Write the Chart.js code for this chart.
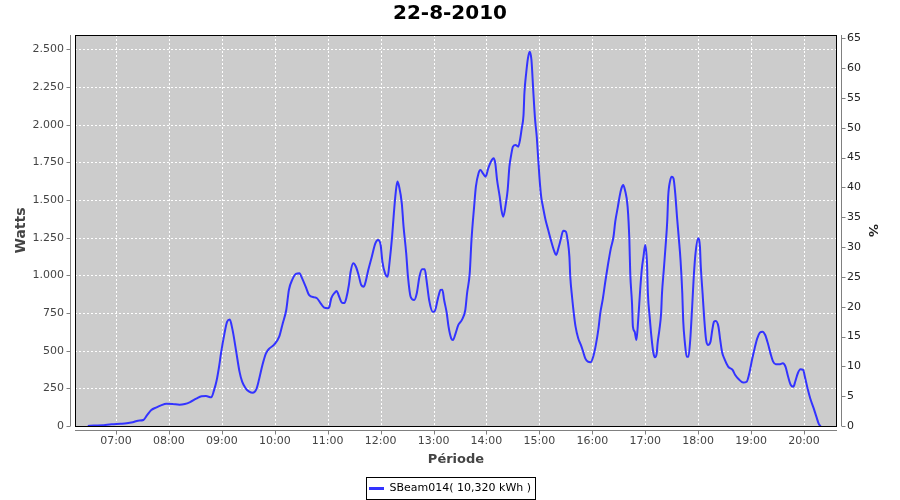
<!DOCTYPE html>
<html>
<head>
<meta charset="utf-8">
<title>22-8-2010</title>
<script src="https://cdn.jsdelivr.net/npm/chart.js@4.4.1/dist/chart.umd.min.js"></script>
<style>
    html, body { margin: 0; padding: 0; background: #ffffff; }
</style>
</head>
<body>
<canvas id="myChart" width="900" height="500"></canvas>
<script>
const times = [
    '06:28', '06:35', '06:45', '06:50', '06:55', '07:05', '07:12', '07:19', '07:25', '07:31',
    '07:35', '07:40', '07:46', '07:51', '07:57', '08:04', '08:12', '08:18', '08:24', '08:31',
    '08:37', '08:42', '08:48', '08:51', '08:54', '08:57', '08:59', '09:03', '09:06', '09:09',
    '09:12', '09:16', '09:20', '09:23', '09:27', '09:31', '09:35', '09:39', '09:42', '09:46',
    '09:50', '09:54', '09:59', '10:05', '10:09', '10:13', '10:16', '10:20', '10:24', '10:28',
    '10:31', '10:35', '10:39', '10:45', '10:48', '10:52', '10:56', '11:00', '11:02', '11:04',
    '11:08', '11:10', '11:13', '11:16', '11:19', '11:21', '11:24', '11:26', '11:29', '11:32',
    '11:35', '11:38', '11:41', '11:43', '11:46', '11:50', '11:54', '11:57', '12:00', '12:02',
    '12:05', '12:08', '12:10', '12:13', '12:15', '12:17', '12:19', '12:21', '12:24', '12:26',
    '12:29', '12:31', '12:34', '12:38', '12:41', '12:44', '12:47', '12:50', '12:52', '12:55',
    '12:59', '13:01', '13:05', '13:08', '13:10', '13:12', '13:15', '13:17', '13:20', '13:22',
    '13:25', '13:28', '13:32', '13:36', '13:38', '13:41', '13:43', '13:46', '13:48', '13:51',
    '13:53', '13:56', '13:59', '14:02', '14:05', '14:08', '14:10', '14:12', '14:15', '14:17',
    '14:19', '14:22', '14:24', '14:26', '14:28', '14:30', '14:33', '14:36', '14:38', '14:40',
    '14:42', '14:43', '14:45', '14:47', '14:49', '14:51', '14:53', '14:55', '14:57', '14:58',
    '15:00', '15:02', '15:04', '15:07', '15:10', '15:13', '15:17', '15:19', '15:22', '15:24',
    '15:27', '15:30', '15:32', '15:34', '15:35', '15:37', '15:39', '15:41', '15:44', '15:47',
    '15:49', '15:52', '15:55', '15:58', '16:01', '16:04', '16:07', '16:09', '16:12', '16:15',
    '16:18', '16:21', '16:24', '16:26', '16:29', '16:31', '16:33', '16:35', '16:37', '16:40',
    '16:42', '16:43', '16:45', '16:46', '16:48', '16:50', '16:52', '16:54', '16:56', '16:58',
    '17:00', '17:02', '17:03', '17:05', '17:07', '17:09', '17:11', '17:13', '17:14', '17:16',
    '17:18', '17:19', '17:21', '17:23', '17:25', '17:26', '17:28', '17:30', '17:32', '17:34',
    '17:36', '17:38', '17:40', '17:42', '17:43', '17:45', '17:47', '17:49', '17:51', '17:53',
    '17:55', '17:57', '18:00', '18:02', '18:03', '18:05', '18:07', '18:09', '18:11', '18:14',
    '18:16', '18:18', '18:20', '18:23', '18:25', '18:27', '18:30', '18:34', '18:39', '18:42',
    '18:46', '18:51', '18:55', '18:58', '19:01', '19:04', '19:07', '19:10', '19:13', '19:16',
    '19:19', '19:22', '19:25', '19:28', '19:32', '19:36', '19:39', '19:42', '19:45', '19:48',
    '19:50', '19:53', '19:56', '19:59', '20:01', '20:04', '20:07', '20:11', '20:14', '20:17',
    '20:19'
];

const watts = [
    0, 3, 5, 9, 12, 15, 18, 25, 35, 40,
    70, 106, 124, 137, 148, 146, 141, 146, 159, 181,
    197, 199, 190, 235, 300, 400, 482, 615, 692, 706,
    641, 504, 361, 294, 250, 228, 221, 243, 305, 405,
    482, 515, 538, 593, 681, 770, 903, 973, 1009, 1013,
    980, 925, 869, 854, 847, 814, 785, 781, 792, 847,
    885, 896, 858, 819, 816, 847, 936, 1024, 1080, 1057,
    1002, 936, 925, 958, 1035, 1124, 1212, 1234, 1201, 1091,
    1013, 991, 1080, 1257, 1411, 1544, 1622, 1588, 1478, 1323,
    1146, 991, 858, 836, 881, 991, 1040, 1040, 969, 836,
    759, 759, 847, 903, 905, 836, 748, 659, 582, 571,
    615, 670, 703, 770, 881, 1013, 1234, 1456, 1588, 1677,
    1699, 1677, 1655, 1710, 1754, 1777, 1743, 1633, 1522, 1433,
    1389, 1478, 1566, 1721, 1798, 1854, 1865, 1854, 1898, 1976,
    2064, 2208, 2341, 2440, 2484, 2429, 2230, 2042, 1920, 1832,
    1655, 1522, 1456, 1367, 1301, 1234, 1157, 1135, 1190, 1234,
    1296, 1290, 1234, 1124, 991, 858, 748, 659, 582, 538,
    504, 449, 427, 423, 460, 538, 648, 748, 847, 969,
    1080, 1179, 1256, 1356, 1456, 1526, 1577, 1599, 1566, 1456,
    1234, 1013, 814, 659, 626, 571, 703, 881, 1035, 1124,
    1201, 1080, 881, 726, 593, 493, 456, 482, 549, 637,
    748, 881, 1035, 1190, 1367, 1522, 1622, 1655, 1644, 1544,
    1389, 1250, 1102, 881, 703, 549, 460, 460, 571, 770,
    991, 1146, 1246, 1190, 1057, 881, 703, 571, 538, 560,
    637, 692, 697, 659, 571, 493, 442, 394, 372, 338,
    310, 288, 294, 350, 438, 515, 582, 619, 626, 604,
    549, 482, 427, 409, 409, 416, 394, 327, 272, 261,
    294, 350, 376, 372, 327, 250, 184, 117, 62, 11,
    0
];

const hourTicks = ['07:00', '08:00', '09:00', '10:00', '11:00', '12:00', '13:00',
    '14:00', '15:00', '16:00', '17:00', '18:00', '19:00', '20:00'];
const wattTicks = [0, 250, 500, 750, 1000, 1250, 1500, 1750, 2000, 2250, 2500];
const percentTicks = [0, 5, 10, 15, 20, 25, 30, 35, 40, 45, 50, 55, 60, 65];

const seriesLabel = 'SBeam014( 10,320 kWh )';

function toMin(s) {
    const parts = s.split(':');
    return parseInt(parts[0]) * 60 + parseInt(parts[1]);
}

function toHHMM(v) {
    const h = Math.floor(v / 60);
    const m = Math.round(v % 60);
    return String(h).padStart(2, '0') + ':' + String(m).padStart(2, '0');
}

// 2500 -> "2.500"
function dotThousands(v) {
    return String(v).replace(/\B(?=(\d{3})+(?!\d))/g, '.');
}

const points = times.map((t, i) => ({ x: toMin(t), y: watts[i] }));

const FONT = 'DejaVu Sans';

// grey plot area, dotted white grid, black frame, offset axis lines, legend frame
const plotFrame = {
    id: 'plotFrame',
    beforeDraw(chart) {
        const a = chart.chartArea;
        const ctx = chart.ctx;
        ctx.save();
        ctx.fillStyle = '#cccccc';
        ctx.fillRect(a.left, a.top, a.right - a.left, a.bottom - a.top);
        ctx.restore();
    },
    beforeDatasetsDraw(chart) {
        const a = chart.chartArea;
        const ctx = chart.ctx;
        const xs = chart.scales.x, ys = chart.scales.y;
        ctx.save();
        ctx.strokeStyle = '#ffffff';
        ctx.lineWidth = 1;
        ctx.setLineDash([2, 2]);
        ctx.beginPath();
        xs.ticks.forEach(t => {
            const px = Math.round(xs.getPixelForValue(t.value)) + 0.5;
            ctx.moveTo(px, a.top); ctx.lineTo(px, a.bottom);
        });
        ys.ticks.forEach(t => {
            const py = Math.round(ys.getPixelForValue(t.value)) + 0.5;
            ctx.moveTo(a.left, py); ctx.lineTo(a.right, py);
        });
        ctx.stroke();
        ctx.setLineDash([]);
        ctx.strokeStyle = '#000000';
        ctx.strokeRect(a.left + 0.5, a.top + 0.5, a.right - a.left - 1, a.bottom - a.top);
        ctx.restore();
    },
    afterLayout(chart) {
        chart.legend.top += 4;
        chart.legend.bottom += 4;
    },
    afterDraw(chart) {
        const a = chart.chartArea;
        const ctx = chart.ctx;
        const xs = chart.scales.x, ys = chart.scales.y, ys2 = chart.scales.y2;
        ctx.save();
        ctx.strokeStyle = '#808080';
        ctx.lineWidth = 1;
        ctx.beginPath();
        const yb = a.bottom + 4.5;
        ctx.moveTo(a.left, yb); ctx.lineTo(a.right, yb);
        xs.ticks.forEach(t => {
            const px = Math.round(xs.getPixelForValue(t.value)) + 0.5;
            ctx.moveTo(px, yb); ctx.lineTo(px, yb + 4);
        });
        const xl = a.left - 4.5;
        ctx.moveTo(xl, a.top); ctx.lineTo(xl, a.bottom);
        ys.ticks.forEach(t => {
            const py = Math.round(ys.getPixelForValue(t.value)) + 0.5;
            ctx.moveTo(xl, py); ctx.lineTo(xl - 4, py);
        });
        const xr = a.right + 4.5;
        ctx.moveTo(xr, a.top); ctx.lineTo(xr, a.bottom);
        ys2.ticks.forEach(t => {
            const py = Math.round(ys2.getPixelForValue(t.value)) + 0.5;
            ctx.moveTo(xr, py); ctx.lineTo(xr + 4, py);
        });
        ctx.stroke();

        const hb = chart.legend.legendHitBoxes[0];
        if (hb) {
            ctx.strokeStyle = '#000000';
            ctx.strokeRect(Math.round(hb.left) - 2.5, Math.round(hb.top) - 5.5,
                Math.round(hb.width) + 7, Math.round(hb.height) + 11);
        }
        ctx.restore();
    }
};

const ctx = document.getElementById('myChart').getContext('2d');
window.myChart = new Chart(ctx, {
    type: 'line',
    data: {
        datasets: [{
            label: seriesLabel,
            data: points,
            borderColor: '#3333ff',
            backgroundColor: '#3333ff',
            borderWidth: 2,
            pointRadius: 0,
            fill: false,
            cubicInterpolationMode: 'monotone',
            yAxisID: 'y'
        }]
    },
    options: {
        responsive: false,
        animation: false,
        layout: { padding: 0 },
        plugins: {
            title: {
                display: true,
                text: '22-8-2010',
                color: '#000000',
                font: { family: FONT, size: 20, weight: 'bold' },
                padding: { top: 2, bottom: 9 }
            },
            legend: {
                position: 'bottom',
                labels: {
                    color: '#000000',
                    font: { family: FONT, size: 11 },
                    boxWidth: 15,
                    boxHeight: 3,
                    padding: 0,
                    generateLabels: (chart) => [{
                        text: chart.data.datasets[0].label,
                        fillStyle: '#3333ff',
                        strokeStyle: '#3333ff',
                        lineWidth: 0,
                        datasetIndex: 0
                    }]
                }
            },
            tooltip: { enabled: false }
        },
        scales: {
            x: {
                type: 'linear',
                min: 373.5,
                max: 1237.4,
                afterBuildTicks: (scale) => {
                    scale.ticks = hourTicks.map(h => ({ value: toMin(h) }));
                },
                afterFit: (scale) => { scale.height = 53; },
                ticks: {
                    callback: (v) => toHHMM(v),
                    autoSkip: false,
                    maxRotation: 0,
                    padding: 9,
                    color: '#444444',
                    font: { family: FONT, size: 11 }
                },
                grid: { display: false, drawTicks: false },
                border: { display: false },
                title: {
                    display: true,
                    text: 'Période',
                    color: '#444444',
                    font: { family: FONT, size: 13, weight: 'bold' },
                    padding: { top: 0, bottom: 12 }
                }
            },
            y: {
                type: 'linear',
                position: 'left',
                min: 0,
                max: 2595,
                afterBuildTicks: (scale) => {
                    scale.ticks = wattTicks.map(v => ({ value: v }));
                },
                afterFit: (scale) => { scale.width = 75; },
                ticks: {
                    callback: (v) => dotThousands(v),
                    padding: 11,
                    color: '#444444',
                    font: { family: FONT, size: 11 }
                },
                grid: { display: false, drawTicks: false },
                border: { display: false },
                title: {
                    display: true,
                    text: 'Watts',
                    color: '#444444',
                    font: { family: FONT, size: 14, weight: 'bold' },
                    padding: { top: 13 }
                }
            },
            y2: {
                type: 'linear',
                position: 'right',
                min: 0,
                max: 65.55,
                afterBuildTicks: (scale) => {
                    scale.ticks = percentTicks.map(v => ({ value: v }));
                },
                afterFit: (scale) => { scale.width = 63; },
                ticks: {
                    padding: 10,
                    color: '#222222',
                    font: { family: FONT, size: 11 }
                },
                grid: { display: false, drawTicks: false },
                border: { display: false },
                title: {
                    display: true,
                    text: '%',
                    color: '#222222',
                    font: { family: FONT, size: 13, weight: 'bold' },
                    padding: { top: 20 }
                }
            }
        }
    },
    plugins: [plotFrame]
});
</script>
</body>
</html>
